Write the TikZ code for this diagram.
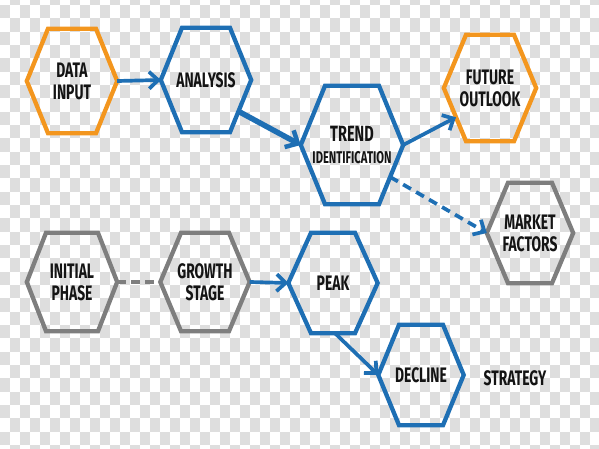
\documentclass[tikz,border=0pt]{standalone}
\usepackage{fontspec}
\setmainfont{Fira Sans}[FakeStretch=0.66]
\usetikzlibrary{arrows.meta,calc}
\definecolor{hblue}{HTML}{1E6FB4}
\definecolor{horange}{HTML}{F3961E}
\definecolor{hgrey}{HTML}{7E7E7E}
\definecolor{chk}{HTML}{DEDEDE}
\definecolor{ink}{HTML}{141414}
\tikzset{
  hexnode/.style={inner sep=0pt, minimum width=90pt, minimum height=104pt, align=center, text=ink, font=\bfseries\fontsize{21}{22}\selectfont},
  hexline/.style={line width=4.3pt, line join=miter},
  conn/.style={line width=3.7pt, hblue, -{Straight Barb[length=9pt,width=17pt,line width=3.7pt]}},
}
\newcommand\hexdraw[3]{\draw[hexline,#2] (#1.west) -- ([xshift=-#3]#1.north) -- ([xshift=#3]#1.north) -- (#1.east) -- ([xshift=#3]#1.south) -- ([xshift=-#3]#1.south) -- cycle;}
\begin{document}
\begin{tikzpicture}[x=1pt,y=-1pt]
\useasboundingbox (0,0) rectangle (599,449);
\fill[white] (0,0) rectangle (599,449);
\foreach \i in {0,2,...,58} \foreach \j in {1,3,...,35} \fill[chk] (\i*10,\j*13.33-8.33) rectangle ++(10,13.33);
\foreach \i in {1,3,...,59} \foreach \j in {0,2,...,34} \fill[chk] (\i*10,\j*13.33-8.33) rectangle ++(10,13.33);

\node[hexnode] (data) at (72,81) {DATA\\INPUT};
\node[hexnode] (analysis) at (206,80) {ANALYSIS};
\node[hexnode, minimum width=102pt, minimum height=118pt] (trend) at (352,145) {\fontsize{22}{23}\selectfont TREND\\\fontsize{17}{18}\selectfont IDENTIFICATION};
\node[hexnode, minimum width=92pt, minimum height=106pt] (future) at (490,88) {FUTURE\\OUTLOOK};
\node[hexnode, minimum width=86pt, minimum height=100pt] (market) at (530,233) {MARKET\\FACTORS};
\node[hexnode, minimum height=98pt] (initial) at (72,282) {INITIAL\\PHASE};
\node[hexnode, minimum width=89pt, minimum height=98pt] (growth) at (205,282) {GROWTH\\STAGE};
\node[hexnode, minimum width=89pt, minimum height=100pt] (peak) at (333,283) {PEAK};
\node[hexnode, minimum width=85pt, minimum height=100pt] (decline) at (421,375) {DECLINE};
\node[text=ink, font=\bfseries\fontsize{21}{22}\selectfont, inner sep=0pt] (strategy) at (515,378) {STRATEGY};

\hexdraw{data}{horange}{24pt}
\hexdraw{analysis}{hblue}{24pt}
\hexdraw{trend}{hblue}{27pt}
\hexdraw{future}{horange}{24pt}
\hexdraw{market}{hgrey}{22pt}
\hexdraw{initial}{hgrey}{26pt}
\hexdraw{growth}{hgrey}{24pt}
\hexdraw{peak}{hblue}{22pt}
\hexdraw{decline}{hblue}{22pt}

\coordinate (aout) at ($(analysis.east)!0.6!([xshift=24pt]analysis.south)$);
\coordinate (fin) at ($(future.west)!0.55!([xshift=-24pt]future.south)$);
\coordinate (tout) at ($(trend.east)!0.54!([xshift=27pt]trend.south)$);
\coordinate (pout) at ([xshift=2pt]peak.south);

\draw[conn] (data.east) -- (analysis.west);
\draw[conn, line width=5.5pt, -{Straight Barb[length=10pt,width=19pt,line width=4.5pt]}] (aout) -- (trend.west);
\draw[conn] (trend.east) -- (fin);
\draw[conn, dash pattern=on 9pt off 6pt] (tout) -- (market.west);
\draw[hgrey, line width=4.5pt, dash pattern=on 9pt off 5pt] (initial.east) -- (growth.west);
\draw[conn] (growth.east) -- (peak.west);
\draw[conn] (pout) -- (decline.west);
\end{tikzpicture}
\end{document}
